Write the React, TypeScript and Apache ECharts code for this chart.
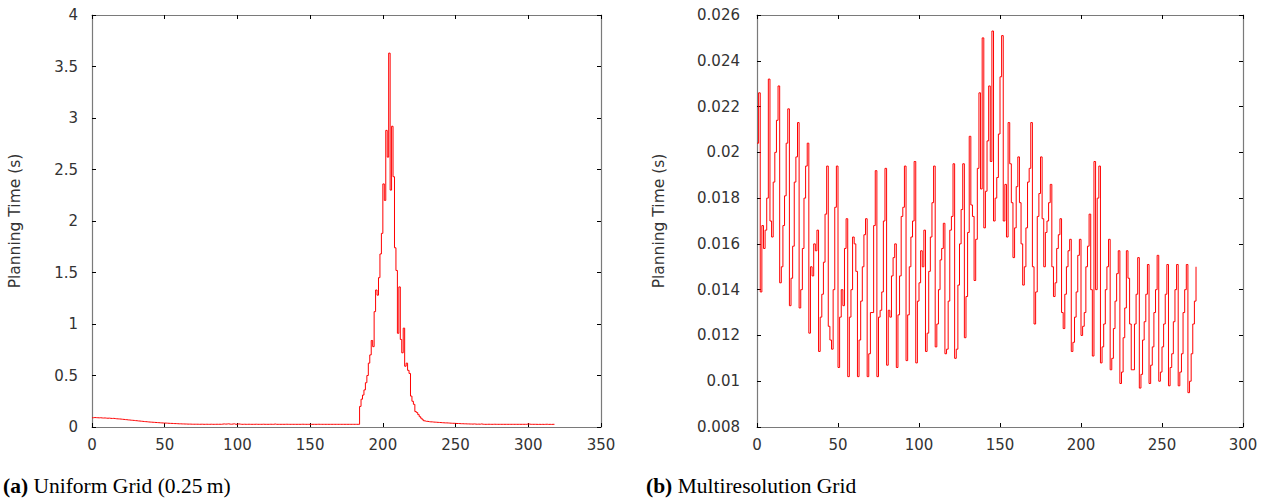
import React, { useEffect, useRef } from "react";
import * as echarts from "echarts";

// (a) Uniform Grid — planning time (s) per step, index = step
const uniformTimes: number[] = [
  0.090, 0.092, 0.091, 0.090, 0.089, 0.090, 0.088, 0.087, 0.088, 0.086,
  0.085, 0.086, 0.084, 0.083, 0.084, 0.082, 0.080, 0.079, 0.078, 0.077,
  0.075, 0.074, 0.072, 0.071, 0.069, 0.068, 0.066, 0.065, 0.064, 0.062,
  0.061, 0.059, 0.058, 0.056, 0.055, 0.053, 0.052, 0.051, 0.049, 0.048,
  0.047, 0.046, 0.045, 0.044, 0.043, 0.042, 0.041, 0.040, 0.039, 0.038,
  0.038, 0.037, 0.036, 0.035, 0.035, 0.034, 0.033, 0.033, 0.032, 0.031,
  0.031, 0.030, 0.030, 0.029, 0.029, 0.028, 0.028, 0.028, 0.027, 0.027,
  0.027, 0.027, 0.027, 0.026, 0.027, 0.027, 0.026, 0.026, 0.027, 0.026,
  0.026, 0.027, 0.026, 0.026, 0.026, 0.027, 0.026, 0.027, 0.026, 0.028,
  0.030, 0.028, 0.029, 0.031, 0.028, 0.027, 0.029, 0.031, 0.026, 0.027,
  0.030, 0.028, 0.026, 0.026, 0.027, 0.026, 0.026, 0.027, 0.026, 0.026,
  0.026, 0.026, 0.027, 0.026, 0.026, 0.026, 0.026, 0.027, 0.026, 0.026,
  0.026, 0.026, 0.027, 0.026, 0.026, 0.029, 0.026, 0.026, 0.026, 0.026,
  0.026, 0.026, 0.026, 0.027, 0.026, 0.026, 0.026, 0.026, 0.026, 0.026,
  0.026, 0.026, 0.026, 0.026, 0.027, 0.026, 0.026, 0.026, 0.026, 0.026,
  0.026, 0.026, 0.026, 0.026, 0.026, 0.027, 0.026, 0.026, 0.026, 0.026,
  0.026, 0.026, 0.026, 0.026, 0.026, 0.026, 0.026, 0.026, 0.026, 0.026,
  0.026, 0.026, 0.026, 0.026, 0.026, 0.026, 0.026, 0.026, 0.026, 0.026,
  0.026, 0.026, 0.026, 0.026, 0.20, 0.27, 0.31, 0.36, 0.43, 0.50,
  0.62, 0.70, 0.84, 0.78, 1.12, 1.33, 1.28, 1.45, 1.68, 1.88,
  2.36, 2.20, 2.88, 2.62, 3.63, 2.30, 2.92, 2.43, 1.74, 1.52,
  0.91, 1.36, 0.85, 0.72, 0.96, 0.59, 0.62, 0.55, 0.52, 0.30,
  0.25, 0.22, 0.15, 0.14, 0.12, 0.10, 0.085, 0.07, 0.06, 0.055,
  0.055, 0.052, 0.050, 0.050, 0.048, 0.047, 0.046, 0.045, 0.044, 0.043,
  0.042, 0.041, 0.040, 0.040, 0.039, 0.038, 0.037, 0.036, 0.036, 0.035,
  0.034, 0.034, 0.033, 0.032, 0.032, 0.031, 0.031, 0.030, 0.030, 0.029,
  0.029, 0.028, 0.030, 0.028, 0.027, 0.028, 0.027, 0.030, 0.027, 0.026,
  0.026, 0.026, 0.027, 0.026, 0.026, 0.026, 0.027, 0.026, 0.026, 0.026,
  0.026, 0.026, 0.026, 0.026, 0.026, 0.026, 0.026, 0.026, 0.026, 0.026,
  0.026, 0.026, 0.026, 0.026, 0.026, 0.026, 0.026, 0.026, 0.026, 0.030,
  0.028, 0.026, 0.026, 0.026, 0.026, 0.026, 0.025, 0.026, 0.025, 0.026,
  0.025, 0.026, 0.027, 0.025, 0.026, 0.025, 0.026, 0.026, 0.026,
];

// (b) Multiresolution Grid — planning time (s) per step, index = step
const multiresTimes: number[] = [
  0.0204, 0.0226, 0.0139, 0.0168, 0.0158, 0.0166, 0.0180, 0.0232, 0.0170, 0.0163,
  0.0187, 0.0200, 0.0214, 0.0229, 0.0143, 0.0150, 0.0168, 0.0181, 0.0204, 0.0219,
  0.0133, 0.0145, 0.0159, 0.0187, 0.0198, 0.0213, 0.0132, 0.0140, 0.0158, 0.0180,
  0.0194, 0.0204, 0.0121, 0.0150, 0.0146, 0.0160, 0.0157, 0.0166, 0.0113, 0.0128,
  0.0138, 0.0152, 0.0173, 0.0194, 0.0124, 0.0118, 0.0114, 0.0140, 0.0176, 0.0194,
  0.0106, 0.0128, 0.0140, 0.0133, 0.0158, 0.0171, 0.0102, 0.0128, 0.0140, 0.0163,
  0.0160, 0.0148, 0.0102, 0.0118, 0.0135, 0.0150, 0.0164, 0.0171, 0.0102, 0.0112,
  0.0130, 0.0130, 0.0168, 0.0192, 0.0102, 0.0128, 0.0131, 0.0139, 0.0170, 0.0193,
  0.0107, 0.0131, 0.0128, 0.0146, 0.0154, 0.0160, 0.0106, 0.0129, 0.0146, 0.0172,
  0.0176, 0.0194, 0.0109, 0.0129, 0.0150, 0.0163, 0.0170, 0.0196, 0.0108, 0.0135,
  0.0143, 0.0157, 0.0150, 0.0166, 0.0113, 0.0121, 0.0148, 0.0163, 0.0178, 0.0194,
  0.0115, 0.0125, 0.0140, 0.0153, 0.0158, 0.0169, 0.0112, 0.0114, 0.0135, 0.0166,
  0.0172, 0.0195, 0.0110, 0.0114, 0.0142, 0.0160, 0.0175, 0.0195, 0.0119, 0.0137,
  0.0165, 0.0207, 0.0177, 0.0172, 0.0144, 0.0162, 0.0193, 0.0226, 0.0184, 0.0250,
  0.0167, 0.0183, 0.0205, 0.0229, 0.0196, 0.0253, 0.0170, 0.0180, 0.0189, 0.0208,
  0.0233, 0.0251, 0.0170, 0.0186, 0.0163, 0.0213, 0.0195, 0.0178, 0.0154, 0.0167,
  0.0185, 0.0198, 0.0178, 0.0160, 0.0142, 0.0150, 0.0167, 0.0187, 0.0193, 0.0213,
  0.0150, 0.0125, 0.0139, 0.0172, 0.0182, 0.0198, 0.0171, 0.0150, 0.0165, 0.0170,
  0.0178, 0.0186, 0.0150, 0.0137, 0.0143, 0.0158, 0.0164, 0.0171, 0.0130, 0.0123,
  0.0138, 0.0150, 0.0157, 0.0162, 0.0113, 0.0117, 0.0128, 0.0139, 0.0155, 0.0162,
  0.0120, 0.0124, 0.0130, 0.0150, 0.0159, 0.0173, 0.0140, 0.0111, 0.0196, 0.0140,
  0.0180, 0.0194, 0.0108, 0.0115, 0.0125, 0.0140, 0.0150, 0.0162, 0.0105, 0.0110,
  0.0123, 0.0135, 0.0147, 0.0157, 0.0099, 0.0104, 0.0119, 0.0132, 0.0157, 0.0145,
  0.0125, 0.0105, 0.0105, 0.0125, 0.0138, 0.0154, 0.0097, 0.0103, 0.0118, 0.0126,
  0.0138, 0.0151, 0.0099, 0.0107, 0.0115, 0.0130, 0.0140, 0.0155, 0.0100, 0.0104,
  0.0115, 0.0125, 0.0138, 0.0151, 0.0098, 0.0106, 0.0112, 0.0126, 0.0140, 0.0151,
  0.0098, 0.0104, 0.0112, 0.0130, 0.0140, 0.0151, 0.0095, 0.0100, 0.0112, 0.0125,
  0.0135, 0.0150,
];

const captionA = "Uniform Grid (0.25\u2009m)";
const captionB = "Multiresolution Grid";
const yAxisName = "Planning Time (s)";

const FONT = '"DejaVu Sans", sans-serif';
const SERIF = '"Liberation Serif", "Times New Roman", serif';

const fmt = (v: number) => String(Number(v.toFixed(4)));

function makeAxes(gridIndex: number, xMax: number, yMin: number, yMax: number, yInterval: number, labelMargin: number) {
  const common = {
    gridIndex,
    axisLine: { show: true, onZero: false, lineStyle: { color: "#7a7a7a", width: 1.2 } },
    axisTick: { show: true, inside: true, length: 4, lineStyle: { color: "#000", width: 1 } },
    splitLine: { show: false },
  };
  const xAxes = [
    {
      ...common,
      type: "value",
      position: "bottom",
      min: 0,
      max: xMax,
      interval: 50,
      axisLabel: { show: true, margin: 10, color: "#333", fontSize: 15, fontFamily: FONT, formatter: fmt },
    },
    {
      ...common,
      type: "value",
      position: "top",
      min: 0,
      max: xMax,
      interval: 50,
      axisLabel: { show: false },
    },
  ];
  const yAxes = [
    {
      ...common,
      type: "value",
      position: "left",
      min: yMin,
      max: yMax,
      interval: yInterval,
      name: yAxisName,
      nameLocation: "middle",
      nameRotate: 90,
      nameGap: gridIndex === 0 ? 69 : 90,
      nameTextStyle: { color: "#333", fontSize: 15.5, fontFamily: FONT },
      axisLabel: { show: true, margin: labelMargin, color: "#333", fontSize: 15, fontFamily: FONT, formatter: fmt },
    },
    {
      ...common,
      type: "value",
      position: "right",
      min: yMin,
      max: yMax,
      interval: yInterval,
      axisLabel: { show: false },
    },
  ];
  return { xAxes, yAxes };
}

export default function App() {
  const ref = useRef<HTMLDivElement>(null);

  useEffect(() => {
    document.body.style.margin = "0";
    if (!ref.current) return;
    const chart = echarts.init(ref.current, undefined, { renderer: "svg" });

    const a = makeAxes(0, 350, 0, 4, 0.5, 14);
    const b = makeAxes(1, 300, 0.008, 0.026, 0.002, 17);

    const captionStyle = (label: string, text: string) => ({
      text: "{b|" + label + "} " + text,
      fill: "#000",
      fontSize: 21.5,
      fontFamily: SERIF,
      rich: { b: { fontWeight: "bold", fontSize: 21.5, fontFamily: SERIF, fill: "#000" } },
    });

    const option: any = {
      animation: false,
      backgroundColor: "#ffffff",
      grid: [
        { left: 92, top: 15, width: 509, height: 412 },
        { left: 757, top: 15, width: 486, height: 412 },
      ],
      xAxis: [...a.xAxes, ...b.xAxes],
      yAxis: [...a.yAxes, ...b.yAxes],
      series: [
        {
          type: "line",
          step: "end",
          xAxisIndex: 0,
          yAxisIndex: 0,
          showSymbol: false,
          symbol: "none",
          lineStyle: { color: "#ff0000", width: 1 },
          data: uniformTimes.map((v, i) => [i, v]),
        },
        {
          type: "line",
          step: "end",
          xAxisIndex: 2,
          yAxisIndex: 2,
          showSymbol: false,
          symbol: "none",
          lineStyle: { color: "#ff0000", width: 1 },
          data: multiresTimes.map((v, i) => [i, v]),
        },
      ],
      graphic: [
        { type: "text", left: 3, top: 475, style: captionStyle("(a)", captionA) },
        { type: "text", left: 646, top: 475, style: captionStyle("(b)", captionB) },
      ],
    };
    chart.setOption(option);
    return () => chart.dispose();
  }, []);

  return <div ref={ref} style={{ width: 1266, height: 499 }} />;
}
